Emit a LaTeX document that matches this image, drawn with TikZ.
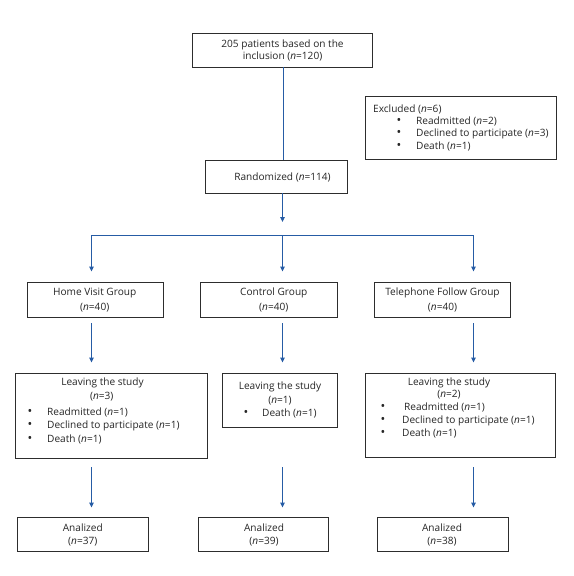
\documentclass[tikz,border=0pt]{standalone}
\usepackage{fontspec}
\setmainfont{Open Sans}
\usetikzlibrary{arrows.meta}
\definecolor{flowblue}{RGB}{38,92,165}
\definecolor{boxgray}{RGB}{45,45,45}
\newcommand{\nn}{\textit{n}}
\tikzset{
  box/.style={draw=boxgray, line width=0.85bp, rectangle, inner sep=0pt, fill=white},
  txt/.style={inner sep=0pt, font=\fontsize{10.1bp}{12bp}\selectfont, text=black!85},
  ltxt/.style={txt, anchor=west},
  bul/.style={inner sep=0pt, font=\fontsize{12.5bp}{12bp}\selectfont, text=black!85},
  blueline/.style={draw=flowblue, line width=1.3bp},
  arr/.style={blueline, -{Triangle[length=5bp,width=4.5bp]}}
}
\begin{document}
\begin{tikzpicture}[x=1bp,y=-1bp]
\useasboundingbox[fill=white] (0,0) rectangle (574,576);
% boxes
\node[box, minimum width=180bp, minimum height=34bp] (top) at (282,50) {};
\node[box, minimum width=191bp, minimum height=63bp] (excl) at (460.5,127.5) {};
\node[box, minimum width=142bp, minimum height=33bp] (rand) at (276,176.5) {};
\node[box, minimum width=136bp, minimum height=35bp] (g1) at (95,299.5) {};
\node[box, minimum width=137bp, minimum height=35bp] (g2) at (268.5,299.5) {};
\node[box, minimum width=136bp, minimum height=35bp] (g3) at (442,299.5) {};
\node[box, minimum width=192bp, minimum height=85bp] (l1) at (111,415.5) {};
\node[box, minimum width=115bp, minimum height=54bp] (l2) at (279.5,400) {};
\node[box, minimum width=190bp, minimum height=84bp] (l3) at (460,415) {};
\node[box, minimum width=131bp, minimum height=34bp] (a1) at (82.5,534) {};
\node[box, minimum width=130bp, minimum height=34bp] (a2) at (263,534) {};
\node[box, minimum width=131bp, minimum height=34bp] (a3) at (442.5,534) {};
% texts
\node[txt] (t1) at (282.5,44.5) {205 patients based on the};
\node[txt] (t2) at (282.5,56.5) {inclusion (\nn=120)};
\node[ltxt] (e0) at (373,109) {Excluded (\nn=6)};
\node[bul] (eb1) at (399,121) {•};
\node[bul] (eb2) at (399,133.5) {•};
\node[bul] (eb3) at (399,146) {•};
\node[ltxt] (e1) at (416,121) {Readmitted (\nn=2)};
\node[ltxt] (e2) at (416,133.5) {Declined to participate (\nn=3)};
\node[ltxt] (e3) at (416,146) {Death (\nn=1)};
\node[txt] (r) at (282.5,177.5) {Randomized (\nn=114)};
\node[txt] (g1a) at (94.7,293.3) {Home Visit Group};
\node[txt] (g1b) at (94.7,307.3) {(\nn=40)};
\node[txt] (g2a) at (273.8,293.3) {Control Group};
\node[txt] (g2b) at (273.8,307.3) {(\nn=40)};
\node[txt] (g3a) at (442.5,293.3) {Telephone Follow Group};
\node[txt] (g3b) at (442.5,307.3) {(\nn=40)};
% leaving 1
\node[txt] (l1a) at (102.5,383) {Leaving the study};
\node[txt] (l1b) at (101.7,397) {(\nn=3)};
\node[bul] (l1d1) at (30,412) {•};
\node[bul] (l1d2) at (30,425.5) {•};
\node[bul] (l1d3) at (30,439) {•};
\node[ltxt] (l1c1) at (47,412) {Readmitted (\nn=1)};
\node[ltxt] (l1c2) at (47,425.5) {Declined to participate (\nn=1)};
\node[ltxt] (l1c3) at (47,439) {Death (\nn=1)};
% leaving 2
\node[txt] (l2a) at (280,387) {Leaving the study};
\node[txt] (l2b) at (280,401) {(\nn=1)};
\node[bul] (l2d1) at (246,413) {•};
\node[ltxt] (l2c1) at (262,413) {Death (\nn=1)};
% leaving 3
\node[txt] (l3a) at (449,383) {Leaving the study};
\node[txt] (l3b) at (449,395) {(\nn=2)};
\node[bul] (l3d1) at (383,407) {•};
\node[bul] (l3d2) at (383,420.5) {•};
\node[bul] (l3d3) at (383,433) {•};
\node[ltxt] (l3c1) at (404,407) {Readmitted (\nn=1)};
\node[ltxt] (l3c2) at (402,420.5) {Declined to participate (\nn=1)};
\node[ltxt] (l3c3) at (402,433) {Death (\nn=1)};
% analized
\node[txt] (a1a) at (82.8,528) {Analized};
\node[txt] (a1b) at (82.8,542) {(\nn=37)};
\node[txt] (a2a) at (264,528) {Analized};
\node[txt] (a2b) at (264,542) {(\nn=39)};
\node[txt] (a3a) at (442,528) {Analized};
\node[txt] (a3b) at (442,542) {(\nn=38)};
% connectors
\coordinate (c0) at (282.5,222);
\coordinate (h1) at (91.5,235.5);
\coordinate (h2) at (282.5,235.5);
\coordinate (h3) at (473.5,235.5);
\coordinate (u1) at (91.5,323);
\coordinate (u2) at (282.5,323);
\coordinate (u3) at (473.5,323);
\coordinate (d1) at (91.5,467);
\coordinate (d2) at (282.5,467);
\coordinate (d3) at (473.5,467);
\draw[blueline] ([xshift=1.5bp]top.south) -- ([xshift=1.5bp]top.south |- rand.north);
\draw[arr] (rand.south -| c0) -- (c0);
\draw[blueline] ([xshift=-0.65bp]h1) -- ([xshift=0.65bp]h3);
\draw[arr, shorten >=10bp] (h1) -- (h1 |- g1.north);
\draw[arr, shorten >=10bp] (h2) -- (h2 |- g2.north);
\draw[arr, shorten >=10bp] (h3) -- (h3 |- g3.north);
\draw[arr, shorten >=10bp] (u1) -- (u1 |- l1.north);
\draw[arr, shorten >=10bp] (u2) -- (u2 |- l2.north);
\draw[arr, shorten >=10bp] (u3) -- (u3 |- l3.north);
\draw[arr, shorten >=9bp] (d1) -- (d1 |- a1.north);
\draw[arr, shorten >=9bp] (d2) -- (d2 |- a2.north);
\draw[arr, shorten >=9bp] (d3) -- (d3 |- a3.north);
\end{tikzpicture}
\end{document}
